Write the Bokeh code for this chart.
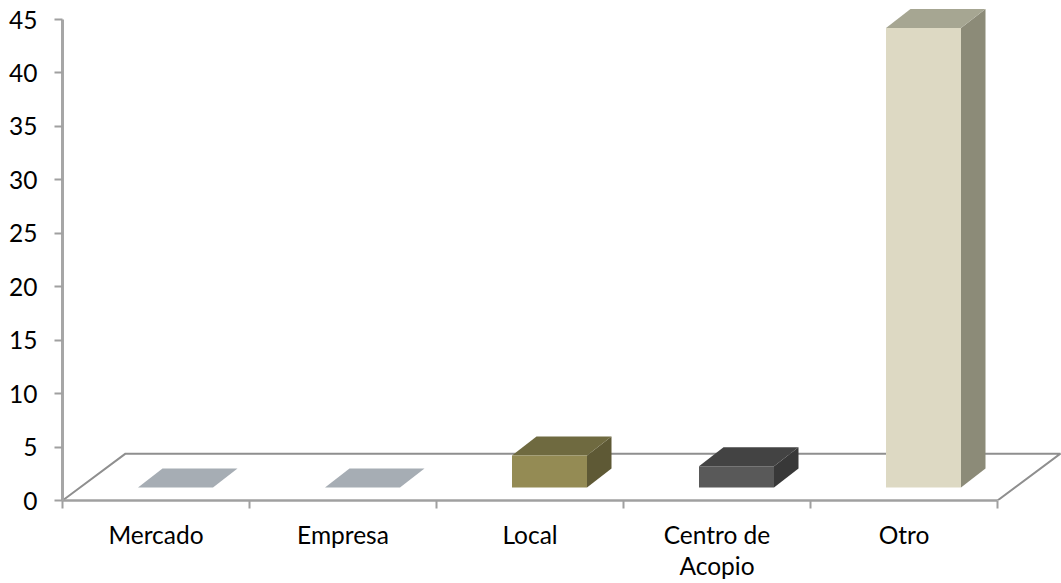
from bokeh.plotting import figure
from bokeh.models import FixedTicker, Range1d
from bokeh.embed import file_html
from bokeh.resources import INLINE

categories = ["Mercado", "Empresa", "Local", "Centro de\nAcopio", "Otro"]
values = [0, 0, 3, 2, 43]
y_ticks = [0, 5, 10, 15, 20, 25, 30, 35, 40, 45]

front_colors = ["#a6adb4", "#a6adb4", "#948b54", "#595959", "#ddd9c3"]
top_colors = ["#a6adb4", "#a6adb4", "#6f6a40", "#434343", "#a6a692"]
side_colors = ["#a6adb4", "#a6adb4", "#5e5935", "#383838", "#8c8b78"]

PX_X = 187.0
PX_Y = 10.72
FLOOR_DX, FLOOR_DY = 63 / PX_X, 47 / PX_Y
BAR_DX, BAR_DY = 24.5 / PX_X, 19 / PX_Y
BAR_W = 75 / PX_X
BAR_OFF_X = 75.5 / PX_X
BAR_BASE = 13 / PX_Y

FRAME_BOTTOM = 501.5
p = figure(width=1061, height=583, output_backend="svg", toolbar_location=None,
           x_range=Range1d(0, 999 / PX_X), y_range=Range1d(0, FRAME_BOTTOM / PX_Y),
           min_border_left=62, min_border_right=0, min_border_top=0, min_border_bottom=80)
p.outline_line_color = None
p.grid.visible = False
p.background_fill_color = "white"

n = len(categories)
p.line([0, FLOOR_DX, n + FLOOR_DX, n], [0, FLOOR_DY, FLOOR_DY, 0], line_color="#8f8f8f", line_width=2)

fx, fy, fc = [], [], []
for i, v in enumerate(values):
    x0 = i + BAR_OFF_X
    x1 = x0 + BAR_W
    y0 = BAR_BASE
    y1 = BAR_BASE + v
    fx.append([x1, x1 + BAR_DX, x1 + BAR_DX, x1])
    fy.append([y0, y0 + BAR_DY, y1 + BAR_DY, y1])
    fc.append(side_colors[i])
    fx.append([x0, x0 + BAR_DX, x1 + BAR_DX, x1])
    fy.append([y1, y1 + BAR_DY, y1 + BAR_DY, y1])
    fc.append(top_colors[i])
    fx.append([x0, x1, x1, x0])
    fy.append([y0, y0, y1, y1])
    fc.append(front_colors[i])
p.patches(fx, fy, fill_color=fc, line_color=None)

xa = p.xaxis[0]
xa.ticker = FixedTicker(ticks=[i + 0.5 for i in range(n)], minor_ticks=list(range(n + 1)))
xa.major_label_overrides = {i + 0.5: c for i, c in enumerate(categories)}
xa.bounds = (0, n)
xa.major_tick_out = 0
xa.major_tick_in = 0
xa.minor_tick_out = 8
xa.minor_tick_in = 0
xa.minor_tick_line_color = "#a0a0a0"
xa.minor_tick_line_width = 2
xa.axis_line_color = "#a0a0a0"
xa.axis_line_width = 2.5
xa.major_label_standoff = 11
xa.major_label_text_font = "Lato"
xa.major_label_text_font_size = "24.5px"
xa.major_label_text_color = "#000000"
xa.major_label_text_line_height = 1.1

ya = p.yaxis[0]
ya.ticker = FixedTicker(ticks=y_ticks)
ya.bounds = (0, 45)
ya.major_tick_out = 8
ya.major_tick_in = 0
ya.minor_tick_line_color = None
ya.major_tick_line_color = "#a0a0a0"
ya.major_tick_line_width = 2
ya.axis_line_color = "#a6a6a6"
ya.axis_line_width = 3
ya.major_label_standoff = 17
ya.major_label_text_font = "Lato"
ya.major_label_text_font_size = "24.5px"
ya.major_label_text_color = "#000000"

open("out.html", "w").write(file_html(p, INLINE))
